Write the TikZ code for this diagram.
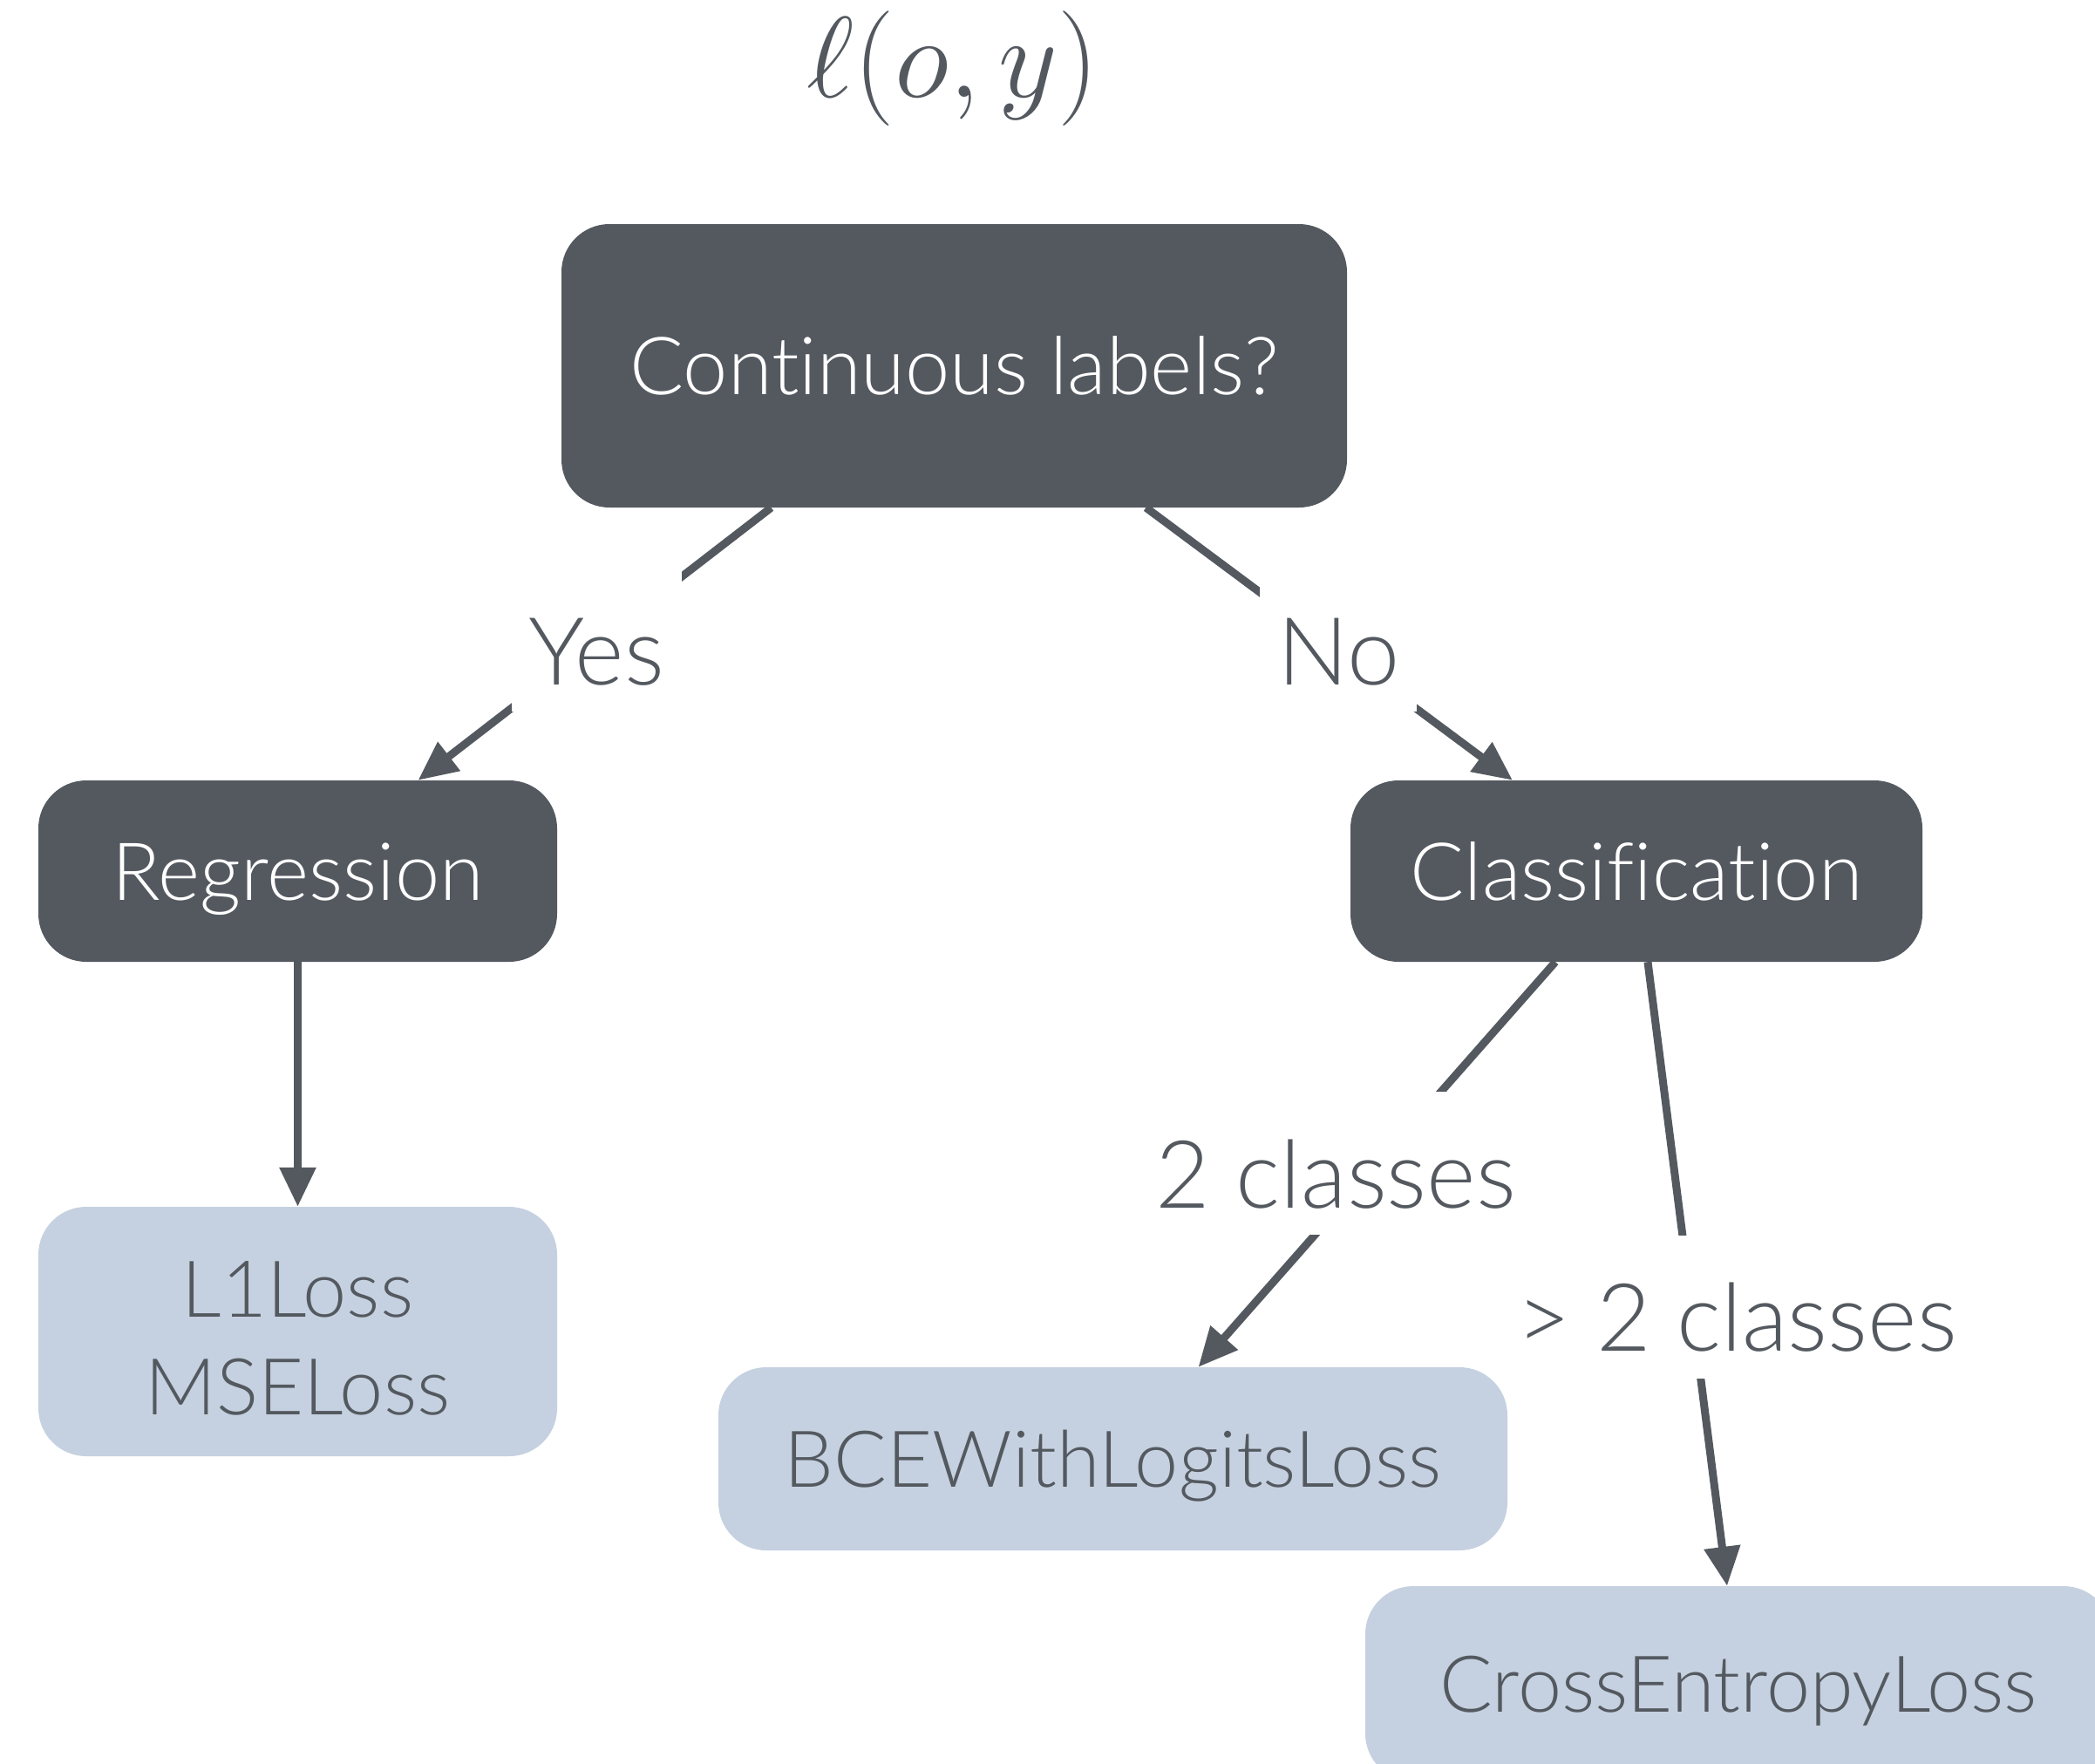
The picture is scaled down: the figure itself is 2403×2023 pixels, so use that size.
\documentclass[tikz,border=0pt]{standalone}
\usepackage{graphicx}
\usepackage{fontspec}
\setmainfont{Lato}[UprightFont=* Light, Ligatures={NoCommon}]
\usetikzlibrary{arrows.meta,calc}
\definecolor{dark}{HTML}{545960}
\definecolor{light}{HTML}{C5D1E0}
\begin{document}
\begin{tikzpicture}[x=1pt,y=-1pt,
  darkbox/.style={rectangle, rounded corners=55pt, fill=dark, text=white, inner sep=0pt, text height=66pt, text depth=0pt, font=\fontsize{92}{110}\selectfont},
  lightbox/.style={rectangle, rounded corners=55pt, fill=light, text=dark, inner sep=0pt, font=\fontsize{90}{112}\selectfont},
  conn/.style={draw=dark, line width=9pt, -{Triangle[length=45pt,width=40pt]}},
  lab/.style={fill=white, text=dark, inner xsep=20pt, inner ysep=31pt, text height=102pt, text depth=0pt, font=\fontsize{108}{120}\selectfont}]
\clip (0,0) rectangle (2403,2023);
\fill[white] (0,0) rectangle (2403,2023);

\node[text=dark] (title) at (1093,79) {\scalebox{5.3}{\Huge $\ell(o,y)$}};

\node[darkbox, minimum width=901pt, minimum height=325pt] (cont) at (1094.5,419.5) {Continuous labels?};
\node[darkbox, minimum width=595pt, minimum height=208pt] (reg) at (341.5,999) {Regression};
\node[darkbox, minimum width=656pt, minimum height=208pt] (cls) at (1877,999) {Classification};
\node[lightbox, align=center, text height=190pt, text depth=0pt, minimum width=595pt, minimum height=286pt] (l1) at (341.5,1527) {L1Loss\\MSELoss};
\node[lightbox, text height=64pt, text depth=0pt, minimum width=905pt, minimum height=210pt] (bce) at (1276.5,1673) {BCEWithLogitsLoss};
\node[lightbox, text height=64pt, text depth=0pt, minimum width=856pt, minimum height=224pt] (ce) at (1994,1931) {CrossEntropyLoss};

\draw[conn] ([xshift=-210pt]cont.south) -- ([xshift=138pt]reg.north) node[lab, pos=0.487, xshift=-3pt] (yes) {Yes};
\draw[conn] ([xshift=220pt]cont.south) -- ([xshift=-142pt]cls.north) node[lab, pos=0.487, xshift=16pt] (no) {No};
\draw[conn] (reg.south) -- (l1.north);
\draw[conn] ([xshift=-93pt]cls.south) -- ([xshift=98pt]bce.north) node[lab, pos=0.497, xshift=-48pt] (two) {2 classes};
\draw[conn] ([xshift=13pt]cls.south) -- ([xshift=-13pt]ce.north) node[lab, pos=0.553, xshift=52pt] (more) {> 2 classes};
\end{tikzpicture}
\end{document}
